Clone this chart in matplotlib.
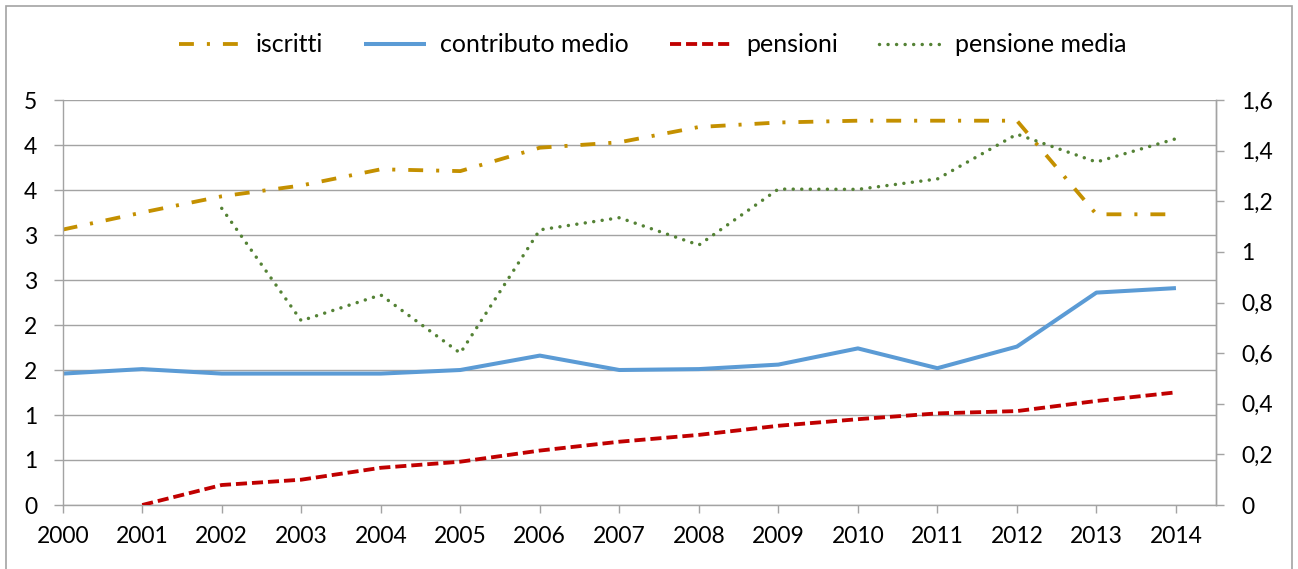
"""
Iscritti, contributo medio, pensioni e pensione media, 2000-2014.
Two y axes, Excel-like look.
"""
import numpy as np
import matplotlib
matplotlib.use("Agg")
import matplotlib.pyplot as plt
from matplotlib.patches import Rectangle

plt.rcParams['font.family'] = ['Lato', 'DejaVu Sans']

### Data
YEARS = ["2000", "2001", "2002", "2003", "2004", "2005", "2006", "2007",
         "2008", "2009", "2010", "2011", "2012", "2013", "2014"]

# left axis
ISCRITTI = [3.06, 3.25, 3.43, 3.55, 3.73, 3.71, 3.97, 4.03,
            4.20, 4.25, 4.27, 4.27, 4.27, 3.23, 3.23]
CONTRIBUTO_MEDIO = [1.46, 1.51, 1.46, 1.46, 1.46, 1.50, 1.66, 1.50,
                    1.51, 1.56, 1.74, 1.52, 1.76, 2.36, 2.41]

# right axis
PENSIONI = [np.nan, 0.0, 0.079, 0.10, 0.147, 0.171, 0.215, 0.25,
            0.277, 0.313, 0.339, 0.362, 0.371, 0.411, 0.445]
PENSIONE_MEDIA = [np.nan, np.nan, 1.172, 0.728, 0.83, 0.60, 1.087, 1.135,
                  1.027, 1.248, 1.247, 1.288, 1.465, 1.355, 1.447]

LEFT_TICKS = [0, 0.5, 1, 1.5, 2, 2.5, 3, 3.5, 4, 4.5]
LEFT_LABELS = ["0", "1", "1", "2", "2", "3", "3", "4", "4", "5"]
RIGHT_TICKS = [0, 0.2, 0.4, 0.6, 0.8, 1.0, 1.2, 1.4, 1.6]
RIGHT_LABELS = ["0", "0,2", "0,4", "0,6", "0,8", "1", "1,2", "1,4", "1,6"]

### Style
GOLD = "#C49000"
BLUE = "#5B9BD5"
RED = "#C00000"
GREEN = "#548235"
GREY = "#A3A3A3"
FONT_SIZE = 16.5
LEGEND_SIZE = 18

def style_axis(ax):
    """
    Grey spines and outward ticks, like Excel.
    """
    for side in ax.spines:
        ax.spines[side].set_color(GREY)
        ax.spines[side].set_linewidth(1.0)
    ax.spines['top'].set_visible(False)
    ax.tick_params(colors=GREY, labelcolor="black", labelsize=FONT_SIZE,
                   width=1.0, direction="out")

def main():
    fig = plt.figure(figsize=(12.98, 5.69), dpi=100)
    ax = fig.add_axes([62.7 / 1298, 1 - 505 / 569, 1153 / 1298, 405 / 569])
    ax2 = ax.twinx()

    x = np.arange(len(YEARS))

    l1, = ax.plot(x, ISCRITTI, color=GOLD, lw=2.75, dash_capstyle="butt",
                  linestyle=(0, (3.9, 3.4, 0.8, 3.4)), label="iscritti")
    l2, = ax.plot(x, CONTRIBUTO_MEDIO, color=BLUE, lw=2.9,
                  solid_capstyle="butt", solid_joinstyle="round",
                  label="contributo medio")
    l3, = ax2.plot(x, PENSIONI, color=RED, lw=2.75, dash_capstyle="butt",
                   linestyle=(0, (2.9, 1.3)), label="pensioni")
    l4, = ax2.plot(x, PENSIONE_MEDIA, color=GREEN, lw=2.5,
                   dash_capstyle="round", linestyle=(0, (0.01, 2.45)),
                   label="pensione media")

    ax.set_xlim(0, 14.5)
    ax.set_ylim(0, 4.5)
    ax2.set_ylim(0, 1.6)

    ax.set_xticks(x)
    ax.set_xticklabels(YEARS)
    ax.set_yticks(LEFT_TICKS)
    ax.set_yticklabels(LEFT_LABELS)
    ax2.set_yticks(RIGHT_TICKS)
    ax2.set_yticklabels(RIGHT_LABELS)

    ax.yaxis.grid(True, color=GREY, lw=1.0)
    ax.set_axisbelow(True)

    style_axis(ax)
    style_axis(ax2)
    ax.tick_params(axis="y", length=6.5, pad=12)
    ax.tick_params(axis="x", length=6, pad=9)
    ax2.tick_params(axis="y", length=6, pad=12.5)
    ax2.spines['left'].set_visible(False)
    ax2.spines['bottom'].set_visible(False)

    fig.legend(handles=[l1, l2, l3, l4], loc="center", ncol=4,
               bbox_to_anchor=(0.503, 0.921), frameon=False,
               fontsize=LEGEND_SIZE, handlelength=2.5, handletextpad=0.55,
               columnspacing=1.65)

    # chart border (bottom edge sits outside the picture)
    fig.patches.append(Rectangle((6 / 1298, -0.05), 1285.5 / 1298, 1.05 - 6 / 569,
                                 transform=fig.transFigure, fill=False,
                                 edgecolor=GREY, lw=1.2))

    fig.savefig("out.png", dpi=100)
    plt.close(fig)

if __name__ == "__main__":
    main()
